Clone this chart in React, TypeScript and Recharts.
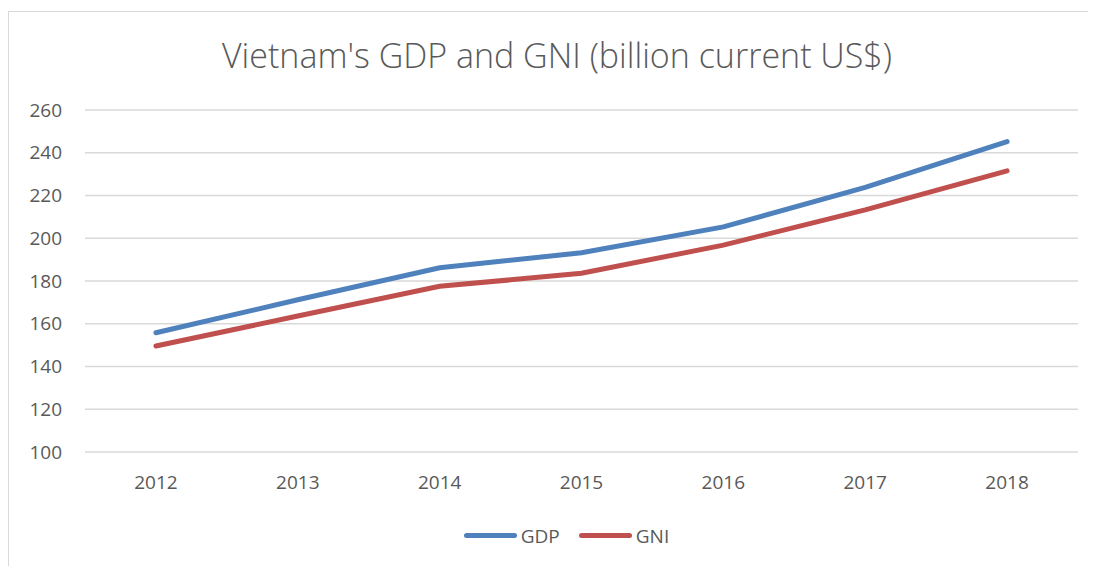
import { LineChart, Line, XAxis, YAxis, CartesianGrid, Legend } from "recharts";

const years = ["2012", "2013", "2014", "2015", "2016", "2017", "2018"];
const gdp = [155.8, 171.2, 186.2, 193.2, 205.3, 223.8, 245.2];
const gni = [149.6, 163.6, 177.5, 183.6, 196.8, 213.3, 231.5];
const yTicks = [100, 120, 140, 160, 180, 200, 220, 240, 260];

const data = years.map((year, i) => ({ year, GDP: gdp[i], GNI: gni[i] }));

const FONT = "'Open Sans', 'Liberation Sans', sans-serif";
const GREY = "#595959";

/** Excel-style legend: thick line swatch followed by series name */
function LegendRow({ payload }: { payload?: any[] }) {
  return (
    <div style={{ display: "flex", justifyContent: "center", alignItems: "center", gap: 19, height: 27 }}>
      {(payload || []).map((p) => (
        <div key={p.value} style={{ display: "flex", alignItems: "center", gap: 4 }}>
          <div style={{ width: 53, height: 5, borderRadius: 3, background: p.color }} />
          <span style={{ fontFamily: FONT, fontSize: 19, color: GREY }}>{p.value}</span>
        </div>
      ))}
    </div>
  );
}

export default function App() {
  return (
    <div
      style={{
        position: "relative",
        marginTop: 3,
        width: 1088,
        height: 555,
        boxSizing: "border-box",
        borderTop: "1.5px solid #d9d9d9",
        borderLeft: "1.5px solid #d9d9d9",
      }}
    >
      <div
        style={{
          position: "absolute",
          top: 20,
          left: 0,
          width: 1096,
          textAlign: "center",
          fontFamily: FONT,
          fontSize: 34,
          fontWeight: 300,
          color: GREY,
        }}
      >
        Vietnam's GDP and GNI (billion current US$)
      </div>
      <LineChart
        width={1087}
        height={554}
        data={data}
        margin={{ top: 98, right: 18, bottom: 57, left: 0 }}
      >
        <CartesianGrid vertical={false} stroke="#d9d9d9" strokeWidth={1.5} />
        <XAxis
          dataKey="year"
          scale="band"
          height={30}
          axisLine={false}
          tickLine={false}
          tickSize={0}
          tickMargin={24}
          tick={{ fill: GREY, fontSize: 19, fontFamily: FONT }}
        />
        <YAxis
          width={76}
          domain={[100, 260]}
          ticks={yTicks}
          axisLine={false}
          tickLine={false}
          tickSize={0}
          tickMargin={23}
          tick={{ fill: GREY, fontSize: 19, fontFamily: FONT }}
        />
        <Legend
          content={<LegendRow />}
          wrapperStyle={{ position: "absolute", top: 510, left: 14, width: 1087 }}
        />
        <Line dataKey="GDP" stroke="#4F81BD" strokeWidth={5} dot={false} strokeLinecap="round" isAnimationActive={false} />
        <Line dataKey="GNI" stroke="#C0504D" strokeWidth={5} dot={false} strokeLinecap="round" isAnimationActive={false} />
      </LineChart>
    </div>
  );
}
